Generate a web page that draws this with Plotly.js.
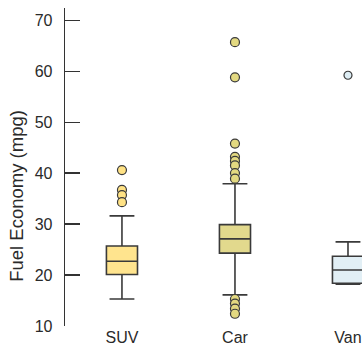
<!DOCTYPE html>
<html>
<head>
<meta charset="utf-8">
<script src="https://cdn.plot.ly/plotly-3.0.1.min.js"></script>
<style>
  html, body { margin: 0; padding: 0; background: #fff; }
  #chart { width: 362px; height: 345px; }
</style>
</head>
<body>
<div id="chart"></div>
<script>
// Vehicle classes along the x axis
const categories = ['SUV', 'Car', 'Van'];

// Five-number summaries (mpg) for each class
const q1Values      = [20.1, 24.3, 18.4];
const medianValues  = [22.7, 27.1, 21.0];
const q3Values      = [25.7, 29.9, 23.7];
const lowerWhiskers = [15.3, 16.1, 18.2];
const upperWhiskers = [31.6, 37.9, 26.5];

// Outlying observations (mpg) per class
const suvOutliers = [40.6, 36.7, 35.7, 34.3];
const carOutliers = [65.7, 58.8, 45.8, 43.2, 42.4, 41.5, 40.0, 38.9, 15.3, 14.4, 13.4, 12.4];
const vanOutliers = [59.2];

// Axis ticks and title
const yTicks = [10, 20, 30, 40, 50, 60, 70];
const yTitle = 'Fuel Economy (mpg)';

const boxFills    = ['#FFE48E', '#E2D98D', '#E2EFF5'];
const markerFills = ['#FFE285', '#E3D981', '#DDEDF4'];
const outlierSets = [suvOutliers, carOutliers, vanOutliers];
const markerSizes = [9, 9, 8];
const edge = '#3a3a3a';
const textColor = '#2a2a2a';

const traces = [];
categories.forEach((cat, i) => {
  traces.push({
    type: 'box',
    x: [cat],
    q1: [q1Values[i]],
    median: [medianValues[i]],
    q3: [q3Values[i]],
    lowerfence: [lowerWhiskers[i]],
    upperfence: [upperWhiskers[i]],
    boxpoints: false,
    width: 0.275,
    whiskerwidth: 0.8,
    fillcolor: boxFills[i],
    line: { color: edge, width: 1.6 },
    hoverinfo: 'skip',
    showlegend: false
  });
  traces.push({
    type: 'scatter',
    mode: 'markers',
    x: outlierSets[i].map(() => cat),
    y: outlierSets[i],
    marker: {
      size: markerSizes[i],
      color: markerFills[i],
      line: { color: edge, width: 1.2 }
    },
    hoverinfo: 'skip',
    showlegend: false
  });
});

const layout = {
  width: 362,
  height: 345,
  margin: { l: 65, r: 0, t: 8, b: 19 },
  paper_bgcolor: '#ffffff',
  plot_bgcolor: '#ffffff',
  font: { family: '"Liberation Sans", Arial, sans-serif', color: textColor, size: 16 },
  xaxis: {
    type: 'category',
    categoryorder: 'array',
    categoryarray: categories,
    range: [-0.504, 2.124],
    showline: false,
    showgrid: false,
    zeroline: false,
    ticks: '',
    tickfont: { size: 16, color: textColor },
    fixedrange: true
  },
  yaxis: {
    range: [10, 72.4],
    tickvals: yTicks,
    ticktext: yTicks.map(String),
    showline: true,
    linecolor: '#333',
    linewidth: 1.3,
    showgrid: false,
    zeroline: false,
    ticks: 'inside',
    ticklen: 15,
    tickwidth: 1.3,
    tickcolor: '#333',
    ticklabelstandoff: 8,
    tickfont: { size: 16, color: textColor },
    fixedrange: true
  },
  annotations: [{
    text: yTitle,
    textangle: -90,
    xref: 'paper', yref: 'paper',
    x: -0.162, y: 0.409,
    xanchor: 'center', yanchor: 'middle',
    showarrow: false,
    font: { size: 18.5, color: textColor }
  }]
};

Plotly.newPlot('chart', traces, layout, { staticPlot: true, displayModeBar: false });
</script>
</body>
</html>
